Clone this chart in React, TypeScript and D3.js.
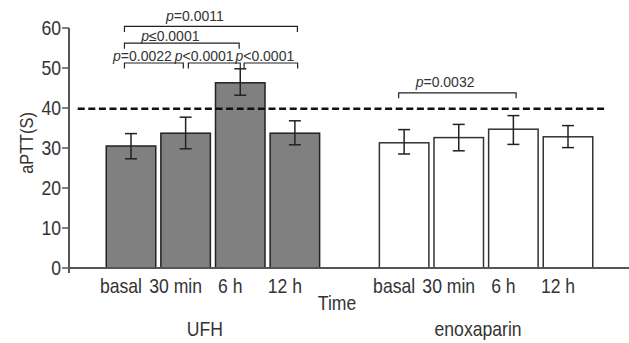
import React from "react";
import * as d3 from "d3";

const times = ["basal", "30 min", "6 h", "12 h"];
const groups = ["UFH", "enoxaparin"];
const ufhMean = [30.5, 33.7, 46.3, 33.7];
const ufhLow = [27.3, 29.8, 43.2, 30.8];
const ufhHigh = [33.6, 37.7, 49.8, 36.8];
const enoxMean = [31.3, 32.6, 34.7, 32.8];
const enoxLow = [28.5, 29.3, 30.9, 30.1];
const enoxHigh = [34.6, 35.9, 38.1, 35.6];
const yTicks = [0, 10, 20, 30, 40, 50, 60];
const threshold = 39.8;

// brackets: slot positions (fractional), level in data units, label
const brackets = [
  { x1: -0.12, x2: 3.046, y: 60.4, lx: 1.17, ly: 61.8, op: "=", val: "0.0011" },
  { x1: -0.12, x2: 1.98, y: 56.2, lx: 0.72, ly: 56.7, op: "≤", val: "0.0001" },
  { x1: -0.12, x2: 0.958, y: 51.25, lx: 0.21, ly: 51.7, op: "=", val: "0.0022" },
  { x1: 1.05, x2: 2.0, y: 51.25, lx: 1.34, ly: 51.7, op: "<", val: "0.0001" },
  { x1: 2.07, x2: 3.05, y: 51.25, lx: 2.45, ly: 51.7, op: "<", val: "0.0001" },
  { x1: 4.9, x2: 7.05, y: 43.8, lx: 5.75, ly: 45.15, op: "=", val: "0.0032" },
];

const FONT = "'Liberation Sans', Arial, sans-serif";

function CText({ x, y, anchor = "middle", size = 20, sx = 0.88, rotate = 0, dy, children }: any) {
  return (
    <text
      transform={`translate(${x},${y}) rotate(${rotate}) scale(${sx},1)`}
      textAnchor={anchor}
      fontSize={size}
      dy={dy}
      fill="#333"
    >
      {children}
    </text>
  );
}

export default function App() {
  const W = 629, H = 343;
  const y = d3.scaleLinear().domain([0, 60]).range([268, 28]);
  const x = d3.scaleLinear().domain([0, 8]).range([131, 568]);
  const barW = 49.5;
  const axisX = 69;

  const series = [
    { mean: ufhMean, low: ufhLow, high: ufhHigh, fill: "#808080", stroke: "#222" },
    { mean: enoxMean, low: enoxLow, high: enoxHigh, fill: "#fff", stroke: "#333" },
  ];

  return (
    <svg width={W} height={H} style={{ position: "absolute", left: 0, top: 0, background: "#fff" }} fontFamily={FONT}>
      {/* bars */}
      {series.map((s, gi) =>
        s.mean.map((m, ti) => {
          const cx = x(gi * 5 + ti);
          return (
            <g key={`b${gi}-${ti}`}>
              <rect x={cx - barW / 2} y={y(m)} width={barW} height={y(0) - y(m)} fill={s.fill} stroke={s.stroke} strokeWidth={1.5} />
              <line x1={cx} x2={cx} y1={y(s.low[ti])} y2={y(s.high[ti])} stroke="#222" strokeWidth={1.5} />
              <line x1={cx - 6} x2={cx + 6} y1={y(s.low[ti])} y2={y(s.low[ti])} stroke="#222" strokeWidth={1.5} />
              <line x1={cx - 6} x2={cx + 6} y1={y(s.high[ti])} y2={y(s.high[ti])} stroke="#222" strokeWidth={1.5} />
            </g>
          );
        })
      )}
      {/* axes */}
      <line x1={axisX} x2={axisX} y1={y(60)} y2={273} stroke="#555" strokeWidth={2} />
      <line x1={axisX} x2={629} y1={y(0)} y2={y(0)} stroke="#555" strokeWidth={2} />
      {yTicks.map((t) => (
        <g key={`t${t}`}>
          <line x1={axisX - 7} x2={axisX} y1={y(t)} y2={y(t)} stroke="#555" strokeWidth={1.5} />
          <CText x={axisX - 8} y={y(t)} dy="0.36em" anchor="end">{t}</CText>
        </g>
      ))}
      {/* threshold */}
      <line x1={77.7} x2={606.7} y1={y(threshold)} y2={y(threshold)} stroke="#111" strokeWidth={2.5} strokeDasharray="7,3.6" />
      {/* category labels */}
      {groups.map((g, gi) =>
        times.map((t, ti) => (
          <CText key={`c${gi}-${ti}`} x={x(gi * 5 + ti) - 10} y={293}>{t}</CText>
        ))
      )}
      <CText x={337} y={310}>Time</CText>
      {groups.map((g, gi) => (
        <CText key={`g${g}`} x={(x(gi * 5) + x(gi * 5 + 3)) / 2 - 8} y={336}>{g}</CText>
      ))}
      <CText x={33} y={143} rotate={-90} size={19} sx={0.86}>aPTT(S)</CText>
      {/* brackets */}
      {brackets.map((b, i) => {
        const yy = y(b.y);
        return (
          <g key={`br${i}`}>
            <path d={`M${x(b.x1)},${yy + 5.5}V${yy}H${x(b.x2)}V${yy + 5.5}`} fill="none" stroke="#222" strokeWidth={1.2} />
            <text x={x(b.lx)} y={y(b.ly)} textAnchor="middle" fontSize={14} fill="#333">
              <tspan fontStyle="italic">p</tspan>{b.op + b.val}
            </text>
          </g>
        );
      })}
    </svg>
  );
}
